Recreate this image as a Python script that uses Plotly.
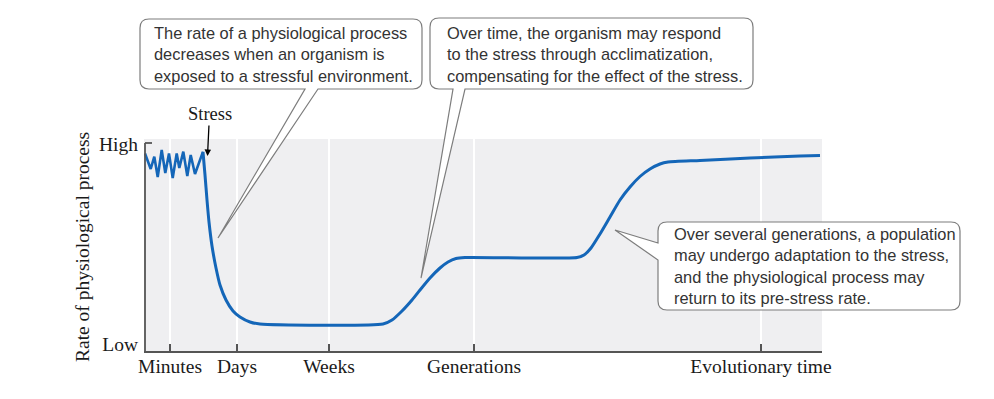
import plotly.graph_objects as go

# ---- data (x: arbitrary time units, y: relative rate, Low=0, High=1) ----
zig_x = [1, 6.7, 10.3, 13.7, 17.7, 21.3, 25, 28.7, 32.7, 35.3, 39.3, 43.3, 46.7, 51, 59]
zig_y = [0.953, 0.875, 0.937, 0.835, 0.97, 0.855, 0.953, 0.83, 0.953, 0.88, 0.962, 0.84, 0.945, 0.85, 0.962]

curve_x = [59, 61, 63, 65, 68, 72, 76, 82, 89, 96, 106, 116, 239, 248, 258, 268, 276, 286,
           296, 304, 312, 321, 433, 440, 447, 456, 466, 476, 486, 496, 506, 516, 524, 556,
           606, 656, 676]
curve_y = [0.96, 0.845, 0.72, 0.61, 0.49, 0.38, 0.295, 0.22, 0.165, 0.135, 0.11, 0.10, 0.10,
           0.12, 0.165, 0.22, 0.27, 0.33, 0.38, 0.41, 0.4275, 0.4325, 0.4325, 0.445, 0.48,
           0.55, 0.635, 0.72, 0.785, 0.8375, 0.875, 0.90, 0.91, 0.9175, 0.93, 0.94, 0.9425]

x_tickvals = [26, 93, 185, 330, 617]
x_ticktext = ["Minutes", "Days", "Weeks", "Generations", "Evolutionary time"]
y_tickvals = [0, 1]
y_ticktext = ["Low", "High"]

y_title = "Rate of physiological process"
stress_label = "Stress"
callout_texts = [
    "The rate of a physiological process<br>decreases when an organism is<br>exposed to a stressful environment.",
    "Over time, the organism may respond<br>to the stress through acclimatization,<br>compensating for the effect of the stress.",
    "Over several generations, a population<br>may undergo adaptation to the stress,<br>and the physiological process may<br>return to its pre-stress rate.",
]

# ---- layout geometry (pixels) ----
W, H = 994, 399
L, R, T, B = 144, 822, 139, 351


def px(x):
    return (x - L) / (R - L)


def py(y):
    return (B - y) / (B - T)


def P(x, y):
    return f"{px(x):.5f},{py(y):.5f}"


def box_path(x0, y0, x1, y1, r, ptr):
    """Rounded box with pointer. ptr=('bottom', a, b, tipx, tipy) or ('left', a, b, tipx, tipy)."""
    side, a, b, tx, ty = ptr
    s = f"M {P(x0 + r, y0)} L {P(x1 - r, y0)} Q {P(x1, y0)} {P(x1, y0 + r)} "
    s += f"L {P(x1, y1 - r)} Q {P(x1, y1)} {P(x1 - r, y1)} "
    if side == "bottom":
        s += f"L {P(b, y1)} L {P(tx, ty)} L {P(a, y1)} "
    s += f"L {P(x0 + r, y1)} Q {P(x0, y1)} {P(x0, y1 - r)} "
    if side == "left":
        s += f"L {P(x0, b)} L {P(tx, ty)} L {P(x0, a)} "
    s += f"L {P(x0, y0 + r)} Q {P(x0, y0)} {P(x0 + r, y0)} Z"
    return s


blue = "#1466b8"
axis_col = "#555555"
serif = "Liberation Serif"
sans = "Liberation Sans"

fig = go.Figure()
fig.add_trace(go.Scatter(x=zig_x, y=zig_y, mode="lines",
                         line=dict(color=blue, width=2.6), hoverinfo="skip"))
fig.add_trace(go.Scatter(x=curve_x, y=curve_y, mode="lines",
                         line=dict(color=blue, width=3, shape="spline", smoothing=0.6),
                         hoverinfo="skip"))

shapes = []
boxes = [
    (140, 19, 422, 89, ("bottom", 305, 318, 218, 238)),
    (430, 18, 753, 89, ("bottom", 453, 465, 421, 278)),
    (658, 222, 960, 310, ("left", 243, 260, 615, 230)),
]
for (x0, y0, x1, y1, ptr) in boxes:
    shapes.append(dict(type="path", xref="paper", yref="paper",
                       path=box_path(x0, y0, x1, y1, 9, ptr),
                       fillcolor="white", line=dict(color="#7d7d7d", width=1.2)))

# y axis line with top tick
shapes.append(dict(type="line", xref="paper", yref="paper",
                   x0=px(145), x1=px(145), y0=py(143), y1=py(351),
                   line=dict(color=axis_col, width=1.8)))
shapes.append(dict(type="line", xref="paper", yref="paper",
                   x0=px(145), x1=px(152), y0=py(143), y1=py(143),
                   line=dict(color=axis_col, width=1.8)))

annotations = []
text_pos = [(152, 54.5), (445, 54.5), (672, 266)]
for (tx, ty), txt in zip(text_pos, callout_texts):
    annotations.append(dict(xref="paper", yref="paper", x=px(tx), y=py(ty),
                            xanchor="left", yanchor="middle", align="left",
                            text=txt, showarrow=False,
                            font=dict(family=sans, size=16.4, color="#333333")))

annotations.append(dict(xref="paper", yref="paper", x=px(207.5), y=py(156),
                        text=stress_label, showarrow=True, arrowhead=2, arrowsize=1,
                        arrowwidth=1.3, arrowcolor="black", ax=2, ay=-42,
                        font=dict(family=serif, size=18.5, color="#1a1a1a")))

annotations.append(dict(xref="paper", yref="paper", x=px(82), y=py(247),
                        xanchor="center", yanchor="middle",
                        text=y_title, showarrow=False, textangle=-90,
                        font=dict(family=serif, size=19.5, color="#1a1a1a")))

fig.update_layout(
    width=W, height=H,
    margin=dict(l=L, r=W - R, t=T, b=H - B, pad=0),
    paper_bgcolor="white",
    plot_bgcolor="#efeff1",
    showlegend=False,
    shapes=shapes,
    annotations=annotations,
    xaxis=dict(range=[0, R - L], tickvals=x_tickvals, ticktext=x_ticktext,
               showgrid=True, gridcolor="white", gridwidth=1.5, zeroline=False,
               showline=True, linecolor=axis_col, linewidth=1.5,
               ticks="inside", ticklen=7, tickwidth=1.5, tickcolor=axis_col,
               ticklabelstandoff=-3,
               tickfont=dict(family=serif, size=19.5, color="#1a1a1a"),
               fixedrange=True),
    yaxis=dict(range=[-0.035, 1.025], tickvals=y_tickvals, ticktext=y_ticktext,
               showgrid=False, zeroline=False, showline=False, ticks="",
               ticklabelstandoff=5,
               tickfont=dict(family=serif, size=19.5, color="#1a1a1a"),
               fixedrange=True),
)

fig.write_html("out.html", config={"displayModeBar": False},
               post_script="document.body.style.margin='0';")
